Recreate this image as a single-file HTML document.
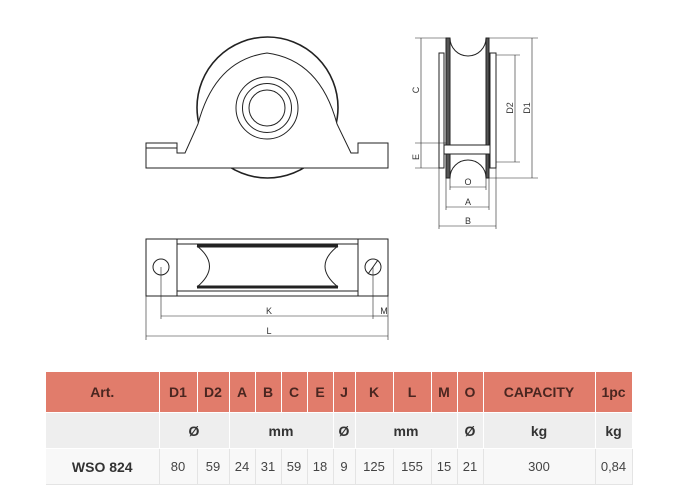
<!DOCTYPE html>
<html><head><style>
body{margin:0;width:675px;height:500px;background:#fff;overflow:hidden;position:relative;font-family:"Liberation Sans",sans-serif}
svg{position:absolute;left:0;top:0}
table{position:absolute;left:46px;top:372px;border-collapse:collapse;table-layout:fixed}
td{padding:0;text-align:center;border-right:1px solid #fff;border-bottom:1px solid #fff;font-size:13px}
tr.h td{background:#e17c6b;height:40px;font-weight:bold;color:#4a2620;font-size:14px}
tr.u td{background:#eeeeee;height:35px;font-weight:bold;color:#333;font-size:14px}
tr.d td{background:#f8f8f8;height:35px;color:#444;border-right:1px solid #e4e4e4;border-bottom:1px solid #e4e4e4}
</style></head><body>
<svg width="675" height="370" viewBox="0 0 675 370" fill="none" stroke="#222" stroke-width="1">
<circle cx="267.5" cy="107.5" r="70.5" stroke-width="1.6"/>
<path d="M146 143 H177 V153 H185 L198 124 Q215 60 267 53 Q320 60 337 124 L351 153 H358 V143 H388 V168 H146 Z" fill="#fff"/>
<line x1="146" y1="148" x2="177" y2="148"/>
<circle cx="267" cy="108" r="31"/>
<circle cx="267" cy="108" r="24.5"/>
<circle cx="267" cy="108" r="18"/>
<rect x="439" y="53" width="5" height="115" fill="#fff"/>
<rect x="490" y="53" width="6" height="115" fill="#fff"/>
<rect x="446" y="38" width="4" height="140" fill="#555"/>
<rect x="486" y="38" width="3" height="140" fill="#555"/>
<path d="M450 38 A18 18 0 0 0 486 38"/>
<path d="M450 178 A18 18 0 0 1 486 178"/>
<rect x="444" y="145" width="46" height="9" fill="#fff"/>
<g stroke-width="0.6">
<line x1="415" y1="38" x2="446" y2="38"/><line x1="415" y1="143" x2="446" y2="143"/><line x1="415" y1="168" x2="439" y2="168"/>
<line x1="421" y1="38" x2="421" y2="168"/>
<line x1="489" y1="38" x2="538" y2="38"/><line x1="489" y1="178" x2="538" y2="178"/>
<line x1="532" y1="38" x2="532" y2="178"/>
<line x1="496" y1="55" x2="520" y2="55"/><line x1="496" y1="162" x2="520" y2="162"/>
<line x1="515" y1="55" x2="515" y2="162"/>
<line x1="450" y1="178" x2="450" y2="190"/><line x1="486" y1="178" x2="486" y2="190"/>
<line x1="450" y1="187" x2="486" y2="187"/>
<line x1="446" y1="178" x2="446" y2="210"/><line x1="489" y1="178" x2="489" y2="210"/>
<line x1="446" y1="207" x2="489" y2="207"/>
<line x1="439" y1="168" x2="439" y2="229"/><line x1="496" y1="168" x2="496" y2="229"/>
<line x1="439" y1="226" x2="496" y2="226"/>
</g>
<g fill="#333" stroke="none" font-size="9" font-family="Liberation Sans">
<text x="419" y="90" transform="rotate(-90 419 90)" text-anchor="middle">C</text>
<text x="419" y="157" transform="rotate(-90 419 157)" text-anchor="middle">E</text>
<text x="530" y="108" transform="rotate(-90 530 108)" text-anchor="middle">D1</text>
<text x="513" y="108" transform="rotate(-90 513 108)" text-anchor="middle">D2</text>
<text x="468" y="185" text-anchor="middle">O</text>
<text x="468" y="205" text-anchor="middle">A</text>
<text x="468" y="224" text-anchor="middle">B</text>
<text x="269" y="314" text-anchor="middle">K</text>
<text x="384" y="314" text-anchor="middle">M</text>
<text x="269" y="334" text-anchor="middle">L</text>
</g>
<rect x="146" y="239" width="242" height="57"/>
<line x1="177" y1="239" x2="177" y2="296"/><line x1="358" y1="239" x2="358" y2="296"/>
<line x1="177" y1="244" x2="358" y2="244"/><line x1="177" y1="291" x2="358" y2="291"/>
<line x1="197" y1="246" x2="338" y2="246" stroke-width="3"/>
<line x1="197" y1="287" x2="338" y2="287" stroke-width="3"/>
<path d="M197 246 Q222 266 197 287"/>
<path d="M338 246 Q312 266 338 287"/>
<circle cx="161" cy="267" r="8"/>
<circle cx="373" cy="267" r="8"/>
<line x1="368" y1="274" x2="378" y2="260"/>
<g stroke-width="0.6">
<line x1="161" y1="267" x2="161" y2="319"/><line x1="373" y1="267" x2="373" y2="319"/>
<line x1="161" y1="316" x2="373" y2="316"/><line x1="373" y1="316" x2="388" y2="316"/>
<line x1="146" y1="296" x2="146" y2="340"/><line x1="388" y1="296" x2="388" y2="340"/>
<line x1="146" y1="336" x2="388" y2="336"/>
</g>
</svg>
<table>
<colgroup><col style="width:113px"><col style="width:38px"><col style="width:32px"><col style="width:26px"><col style="width:26px"><col style="width:26px"><col style="width:26px"><col style="width:22px"><col style="width:38px"><col style="width:38px"><col style="width:26px"><col style="width:26px"><col style="width:112px"><col style="width:37px"></colgroup>
<tr class="h"><td>Art.</td><td>D1</td><td>D2</td><td>A</td><td>B</td><td>C</td><td>E</td><td>J</td><td>K</td><td>L</td><td>M</td><td>O</td><td>CAPACITY</td><td>1pc</td></tr>
<tr class="u"><td></td><td colspan="2">Ø</td><td colspan="4">mm</td><td>Ø</td><td colspan="3">mm</td><td>Ø</td><td>kg</td><td>kg</td></tr>
<tr class="d"><td style="font-weight:bold;font-size:14px;color:#333">WSO 824</td><td>80</td><td>59</td><td>24</td><td>31</td><td>59</td><td>18</td><td>9</td><td>125</td><td>155</td><td>15</td><td>21</td><td>300</td><td>0,84</td></tr>
</table>
</body></html>
